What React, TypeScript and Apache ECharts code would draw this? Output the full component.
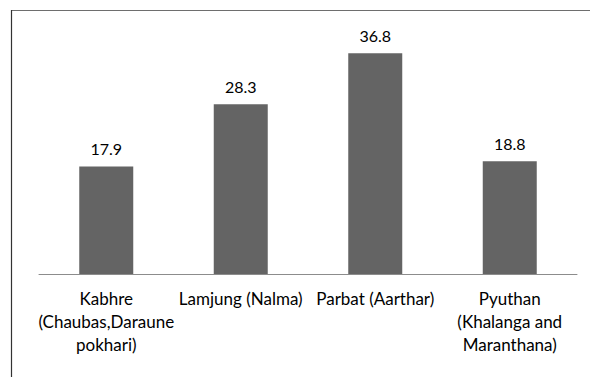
import React, { useEffect, useRef } from "react";
import * as echarts from "echarts";

const categories = [
  "Kabhre\n(Chaubas,Daraune\npokhari)",
  "Lamjung (Nalma)",
  "Parbat (Aarthar)",
  "Pyuthan\n(Khalanga and\nMaranthana)",
];
const values = [17.9, 28.3, 36.8, 18.8];
const yMax = 40;

export default function App() {
  const ref = useRef<HTMLDivElement>(null);
  useEffect(() => {
    const chart = echarts.init(ref.current!, null, { renderer: "svg" });
    chart.setOption({
      animation: false,
      backgroundColor: "#ffffff",
      grid: { left: 39, right: 13, top: 34, bottom: 103, containLabel: false },
      xAxis: {
        type: "category",
        data: categories,
        axisLine: { show: true, lineStyle: { color: "#8c8c8c", width: 1 } },
        axisTick: { show: false },
        axisLabel: {
          interval: 0,
          margin: 13,
          color: "#000000",
          fontFamily: "Lato",
          fontSize: 17,
          lineHeight: 23,
        },
      },
      yAxis: {
        type: "value",
        min: 0,
        max: yMax,
        show: false,
        splitLine: { show: false },
      },
      series: [
        {
          type: "bar",
          data: values,
          barWidth: 54,
          itemStyle: { color: "#646464" },
          label: {
            show: true,
            position: "top",
            distance: 10,
            color: "#000000",
            fontFamily: "Lato",
            fontSize: 16,
            formatter: (p: any) => p.value.toFixed(1),
          },
        },
      ],
      graphic: [
        {
          type: "line",
          shape: { x1: 11, y1: 10.5, x2: 590, y2: 10.5 },
          style: { stroke: "#6e6e6e", lineWidth: 1 },
          silent: true,
        },
        {
          type: "line",
          shape: { x1: 11.5, y1: 10, x2: 11.5, y2: 377 },
          style: { stroke: "#333333", lineWidth: 1.2 },
          silent: true,
        },
      ],
    });
    return () => chart.dispose();
  }, []);
  return (
    <div
      ref={ref}
      style={{ position: "fixed", left: 0, top: 0, width: 590, height: 377 }}
    />
  );
}
